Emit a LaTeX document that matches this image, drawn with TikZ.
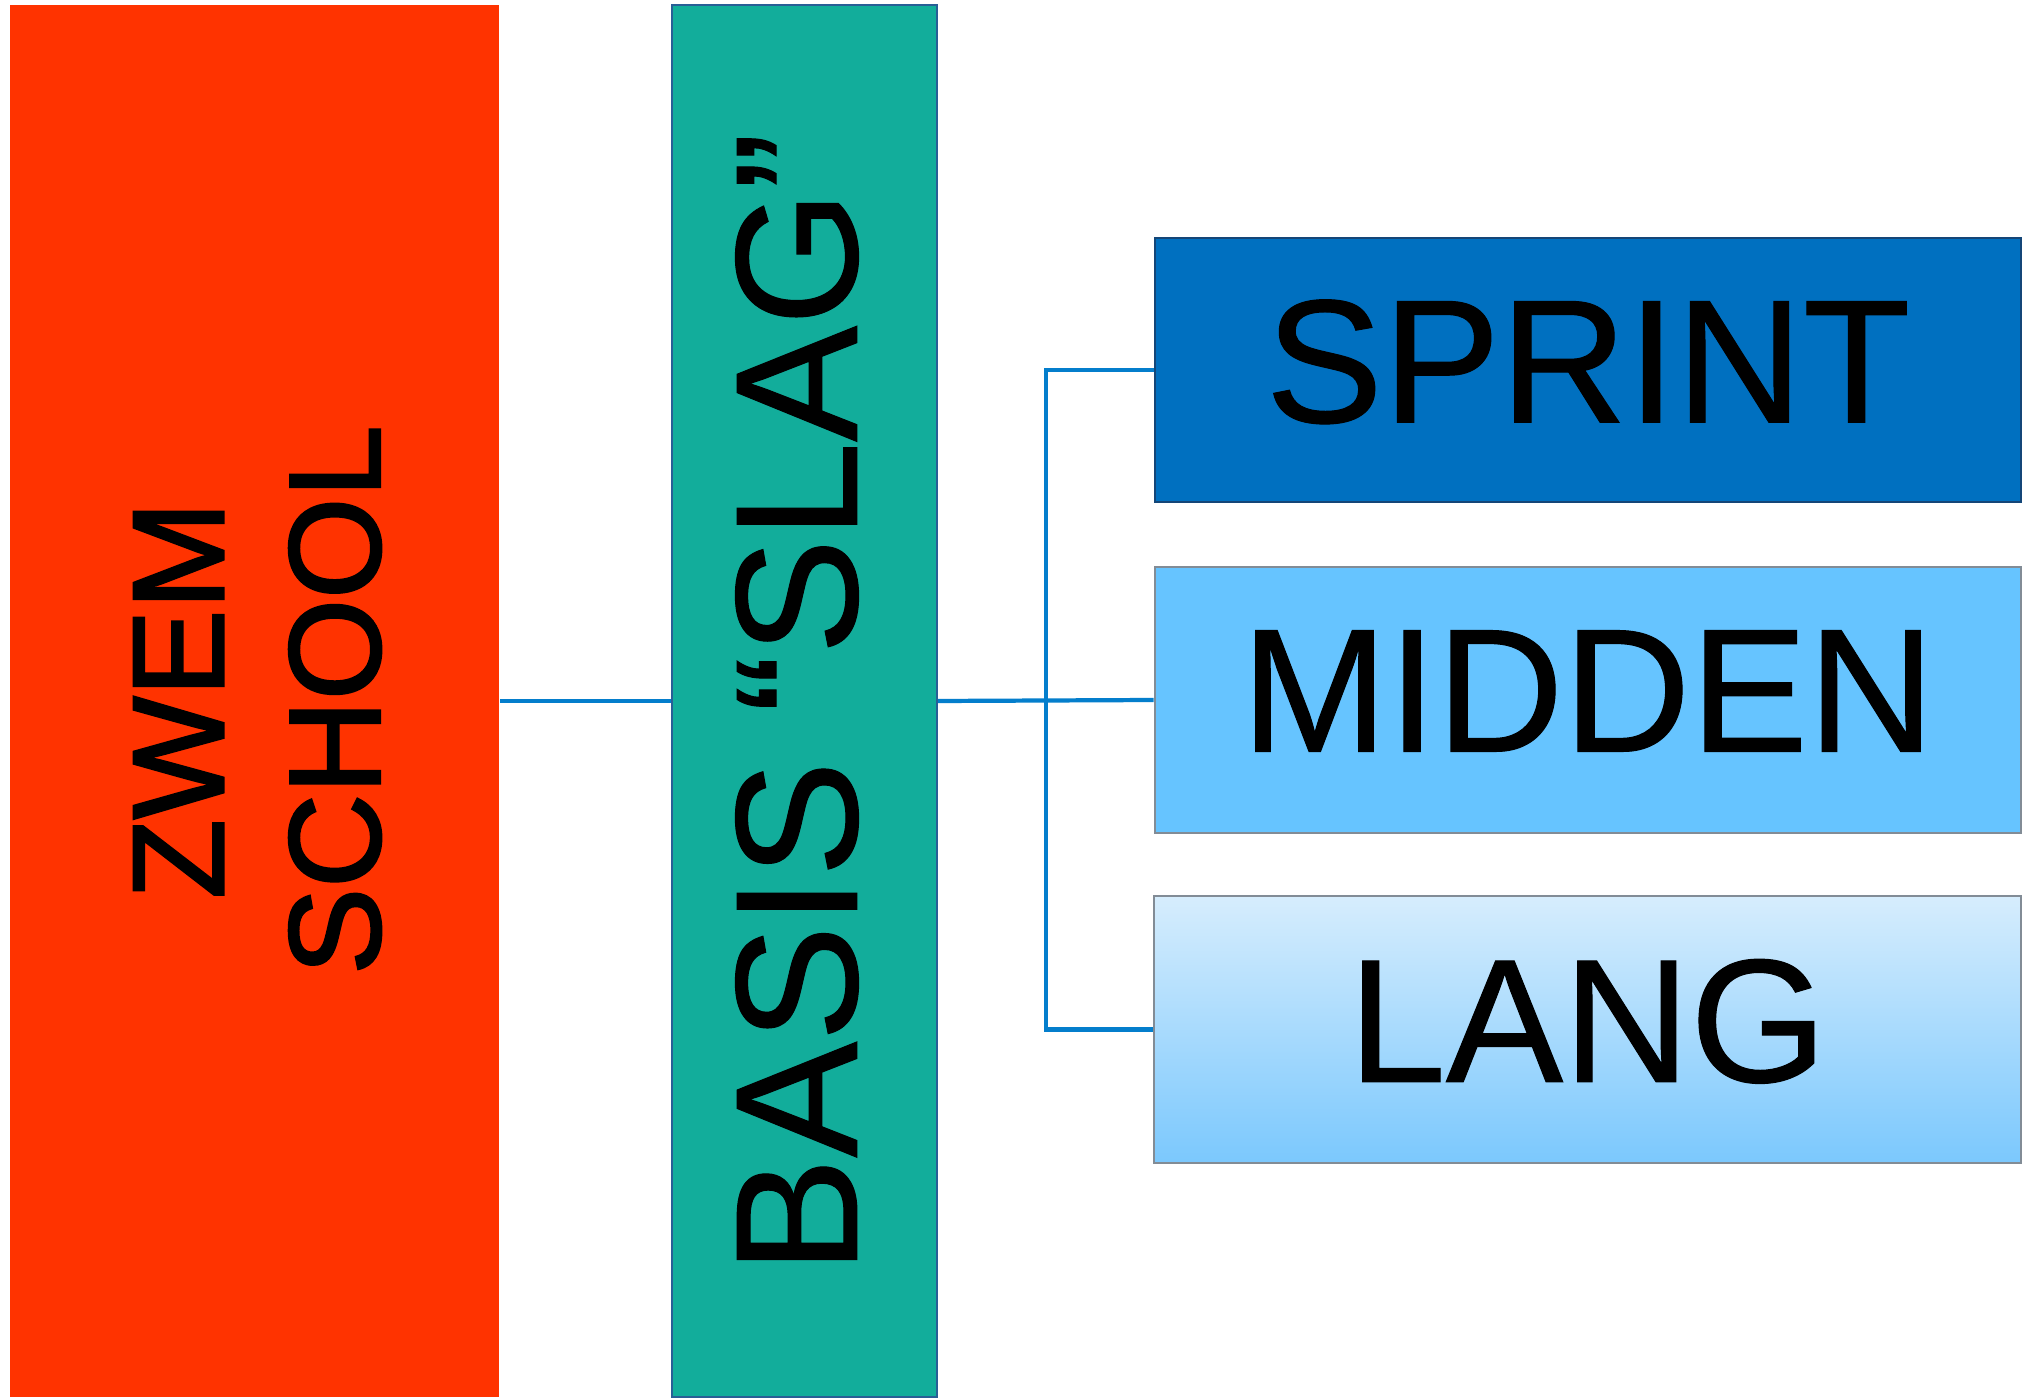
\documentclass[tikz,border=0pt]{standalone}
\usepackage{fontspec}
\setmainfont{Liberation Sans}
\newfontfamily\zwemfont{Liberation Sans}[FakeBold=2]
\newfontfamily\boxfont{Liberation Sans}[FakeBold=0.6]
\definecolor{cOrange}{RGB}{255,51,0}
\definecolor{cTeal}{RGB}{18,173,155}
\definecolor{cTealBorder}{RGB}{40,95,150}
\definecolor{cSprint}{RGB}{0,112,192}
\definecolor{cSprintBorder}{RGB}{20,70,120}
\definecolor{cMidden}{RGB}{102,196,255}
\definecolor{cLangTop}{RGB}{214,237,253}
\definecolor{cLangBot}{RGB}{123,200,253}
\definecolor{cGrayBorder}{RGB}{130,140,150}
\definecolor{cConn}{RGB}{4,126,204}
\tikzset{
  colbox/.style={rectangle, inner sep=0pt, line width=0.6pt},
  boxtext/.style={font=\boxfont\fontsize{50}{58}\selectfont, text depth=0.18cm},
  conn/.style={draw=cConn, line width=1.2pt},
}
\begin{document}
\begin{tikzpicture}[x=0.01cm,y=-0.01cm]
\useasboundingbox[fill=white] (0,0) rectangle (2022,1398);
% left column
\node[colbox, fill=cOrange, minimum width=4.89cm, minimum height=13.92cm] (zwem) at (254.5,701) {};
\node[rotate=90, align=center, inner sep=0pt, font=\zwemfont\fontsize{37}{44.5}\selectfont] (zwemtxt) at (257.5,700) {ZWEM\\SCHOOL};
% middle column
\node[colbox, fill=cTeal, draw=cTealBorder, minimum width=2.65cm, minimum height=13.92cm] (basis) at (804.5,701) {};
\node[rotate=90, inner sep=0pt, font=\boxfont\fontsize{49.5}{56}\selectfont] (basistxt) at (797,703) {BASIS “SLAG”};
% right boxes
\node[colbox, fill=cSprint, draw=cSprintBorder, minimum width=8.66cm, minimum height=2.63cm, boxtext] (sprint) at (1588,370) {SPRINT};
\node[colbox, fill=cMidden, draw=cGrayBorder, minimum width=8.66cm, minimum height=2.66cm, boxtext] (midden) at (1588,700) {MIDDEN};
\node[colbox, top color=cLangTop, bottom color=cLangBot, draw=cGrayBorder, minimum width=8.67cm, minimum height=2.67cm, boxtext] (lang) at (1587.5,1029.5) {LANG\hspace{0.32cm}};
% connectors
\coordinate (j) at (1046,700);
\draw[conn] (zwem.east) -- (basis.west);
\draw[conn] (basis.east) -- (midden.west);
\draw[conn] (sprint.west) -- (sprint.west -| j) -- (lang.west -| j) -- (lang.west);
\end{tikzpicture}
\end{document}
